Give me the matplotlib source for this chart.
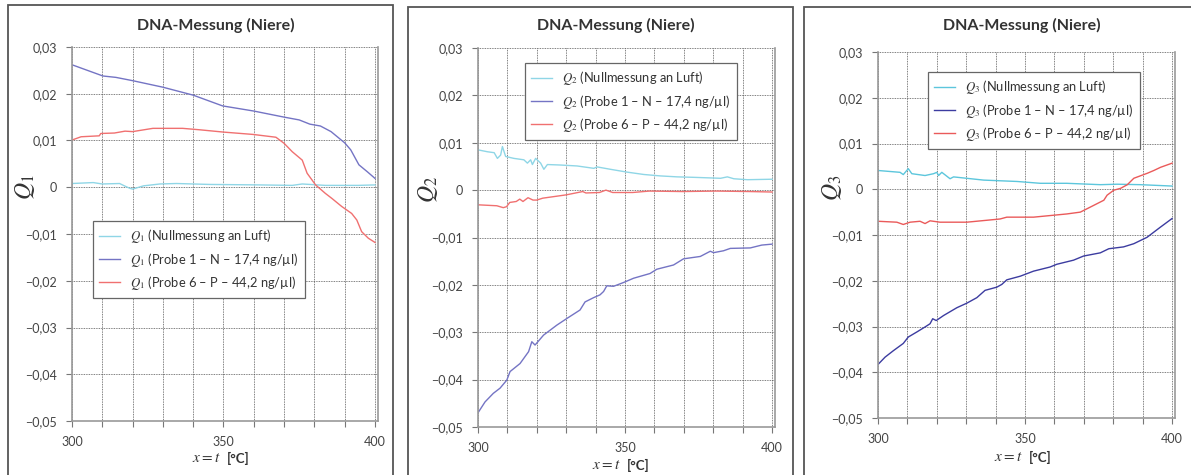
import numpy as np
import matplotlib
matplotlib.use("Agg")
import matplotlib.pyplot as plt
from matplotlib.patches import Rectangle
from matplotlib.ticker import FuncFormatter, MultipleLocator

plt.rcParams['font.family'] = ['Lato', 'DejaVu Sans']
plt.rcParams['mathtext.fontset'] = 'stix'

W, H = 1191, 475

# ---- data (t in °C, Q values) ----
# Panel 1: Q1
q1_luft_t = [300, 307, 310, 315.7, 317.3, 319, 320, 323.6, 329, 334.5, 345.5, 361.8, 372.7, 376, 383.6, 394.5, 400]
q1_luft = [0.0008, 0.0010, 0.0007, 0.0008, 0.0003, -0.0002, -0.0004, 0.0003, 0.0007, 0.0008, 0.0006, 0.0005,
           0.0004, 0.0007, 0.0004, 0.0004, 0.0005]
q1_p1_t = [300, 310.2, 314.5, 320, 330, 340, 349.7, 360, 370, 375, 378.5, 382, 385.5, 390, 392, 394.7, 397.5, 400]
q1_p1 = [0.0262, 0.0238, 0.0235, 0.0228, 0.0214, 0.0197, 0.0174, 0.0163, 0.0150, 0.0144, 0.0135, 0.0131,
         0.0119, 0.0095, 0.0080, 0.0048, 0.0033, 0.0019]
q1_p6_t = [300, 303, 309, 309.5, 314, 317.5, 320, 326.7, 336.5, 342, 350, 359.7, 367.3, 370, 372.7, 376, 377.6,
           380.4, 383.6, 385.8, 389, 392.3, 394, 395.6, 397.8, 400]
q1_p6 = [0.0101, 0.0108, 0.0110, 0.0115, 0.0116, 0.0120, 0.0119, 0.0126, 0.0126, 0.0123, 0.0118, 0.0113,
         0.0107, 0.0094, 0.0076, 0.0058, 0.0030, 0.0005, -0.0013, -0.0024, -0.0041, -0.0056, -0.0070,
         -0.0095, -0.0109, -0.0118]

# Panel 2: Q2
q2_luft_t = [300, 303.2, 305.5, 306.6, 307.7, 308.3, 309.4, 312.2, 315.6, 316.8, 317.9, 318.5, 319.6, 321.3,
             322.4, 323.6, 328, 333.7, 339.4, 340.5, 345, 350.7, 356.4, 362, 367.7, 373.4, 382.5, 384.8, 387,
             391.6, 400]
q2_luft = [0.0085, 0.0081, 0.0079, 0.0067, 0.0074, 0.0092, 0.0071, 0.0067, 0.0064, 0.0057, 0.0064, 0.0054,
           0.0067, 0.0057, 0.0044, 0.0054, 0.0053, 0.0051, 0.0046, 0.0049, 0.0044, 0.0038, 0.0033, 0.0030,
           0.0028, 0.0027, 0.0025, 0.0028, 0.0024, 0.0022, 0.0023]
q2_p1_t = [300, 302.4, 305.2, 307.5, 309.8, 310.9, 314.3, 317.2, 318.3, 319.4, 322.3, 326.8, 330.2, 334.7,
           336.4, 339.3, 341.5, 342.7, 343.8, 346.1, 349.5, 352.9, 358.5, 360.8, 366.5, 369.9, 375.6, 379,
           380.1, 383.5, 385.8, 392.6, 396.5, 400]
q2_p1 = [-0.0470, -0.0447, -0.0429, -0.0418, -0.0401, -0.0383, -0.0366, -0.0341, -0.0320, -0.0327, -0.0306,
         -0.0285, -0.0271, -0.0253, -0.0236, -0.0227, -0.0221, -0.0214, -0.0202, -0.0203, -0.0195, -0.0186,
         -0.0176, -0.0167, -0.0158, -0.0145, -0.0140, -0.0129, -0.0132, -0.0128, -0.0123, -0.0122, -0.0116,
         -0.0114]
q2_p6_t = [300, 306.4, 308.6, 309.7, 310.8, 313, 314.2, 315.3, 317, 318.7, 320, 322, 330, 335.6, 336.7, 341.3,
           343.5, 345.8, 352.6, 358.3, 369.6, 381, 392.4, 400]
q2_p6 = [-0.0031, -0.0033, -0.0037, -0.0035, -0.0026, -0.0024, -0.0019, -0.0024, -0.0016, -0.0021, -0.0021,
         -0.0017, -0.0010, -0.0003, -0.0006, -0.0005, 0.0000, -0.0005, -0.0005, -0.0002, -0.0003, -0.0002,
         -0.0003, -0.0004]

# Panel 3: Q3
q3_luft_t = [300, 307.5, 308.6, 310.3, 311.5, 316, 318.9, 320, 320.6, 321.7, 324.5, 325.7, 335.9, 347.3, 355.2,
             364.2, 375.6, 381.3, 389.2, 400]
q3_luft = [0.0041, 0.0037, 0.0032, 0.0045, 0.0034, 0.0030, 0.0034, 0.0037, 0.0030, 0.0037, 0.0023, 0.0027,
           0.0020, 0.0017, 0.0013, 0.0013, 0.0010, 0.0011, 0.0010, 0.0007]
q3_p1_t = [300, 302.4, 305.2, 308.6, 310.3, 313.2, 316, 317.7, 318.6, 319.8, 322.3, 326.8, 330.2, 333.6, 336.4,
           340.4, 342.1, 343.8, 348.4, 352.9, 358.5, 360.8, 366.5, 369.9, 375.6, 378.5, 383.5, 387, 391.5,
           396, 400]
q3_p1 = [-0.0383, -0.0367, -0.0353, -0.0337, -0.0323, -0.0312, -0.0301, -0.0294, -0.0283, -0.0287, -0.0276,
         -0.0259, -0.0249, -0.0237, -0.0221, -0.0214, -0.0208, -0.0198, -0.0190, -0.0179, -0.0170, -0.0164,
         -0.0155, -0.0146, -0.0139, -0.0130, -0.0126, -0.0119, -0.0105, -0.0083, -0.0064]
q3_p6_t = [300, 306.4, 308.6, 310.9, 314.3, 316, 317.7, 321.1, 330.2, 341.5, 343.8, 352.9, 364.2, 368.8, 372.2,
           376.8, 377.9, 380.2, 382.5, 384.8, 387, 391.6, 393.8, 396.1, 400]
q3_p6 = [-0.0070, -0.0072, -0.0077, -0.0072, -0.0070, -0.0075, -0.0069, -0.0072, -0.0072, -0.0065, -0.0061,
         -0.0061, -0.0054, -0.0050, -0.0039, -0.0024, -0.0013, -0.0002, 0.0002, 0.0010, 0.0024, 0.0035,
         0.0041, 0.0048, 0.0057]

legend_names = ["(Nullmessung an Luft)", "(Probe 1 – N – 17,4 ng/µl)", "(Probe 6 – P – 44,2 ng/µl)"]


def px(x, y):
    return x / W, 1 - y / H


def yfmt(v, pos):
    if abs(v) < 1e-9:
        return "0"
    s = f"{abs(v):.2f}".replace(".", ",")
    return ("\u2212" if v < 0 else "") + s


def xfmt(v, pos):
    return f"{v:.0f}" if round(v) % 50 == 0 else ""


fig = plt.figure(figsize=(W / 100, H / 100), dpi=100)

# panels: border box, axes box (pixels), title x, ylabel pos, legend box, xlabel pos, colours
panels = [
    dict(border=(8, 5, 393), ax=(72, 47, 378, 421), title_x=216, ylab=(25, 187), leg=(93, 221),
         xlab=(206, 458), n=1,
         series=[(q1_luft_t, q1_luft), (q1_p1_t, q1_p1), (q1_p6_t, q1_p6)],
         colors=["#8fd6e6", "#7474c4", "#f07070"]),
    dict(border=(408, 7, 793), ax=(478, 48, 775, 427), title_x=616, ylab=(428, 190), leg=(525, 63),
         xlab=(606, 465), n=2,
         series=[(q2_luft_t, q2_luft), (q2_p1_t, q2_p1), (q2_p6_t, q2_p6)],
         colors=["#8fd6e6", "#7474c4", "#f07070"]),
    dict(border=(804, 7, 1200), ax=(878, 52, 1175, 418), title_x=1022, ylab=(832, 188), leg=(928, 72),
         xlab=(1008, 457), n=3,
         series=[(q3_luft_t, q3_luft), (q3_p1_t, q3_p1), (q3_p6_t, q3_p6)],
         colors=["#5cc6dc", "#3c3ca0", "#ea5a5a"]),
]

for p in panels:
    bx0, by0, bx1 = p["border"]
    fig.patches.append(Rectangle(px(bx0, 480), (bx1 - bx0) / W, (480 - by0) / H,
                                 transform=fig.transFigure, fill=False, edgecolor="#555555", lw=1.3))

    x0, y0, x1, y1 = p["ax"]
    ax = fig.add_axes([x0 / W, 1 - y1 / H, (x1 - x0) / W, (y1 - y0) / H])
    n = p["n"]
    for (t, q), c, name in zip(p["series"], p["colors"], legend_names):
        ax.plot(t, q, color=c, lw=1.0, label=f"$Q_{n}$ {name}")

    ax.set_xlim(300, 401)
    ax.set_ylim(-0.05, 0.03)
    ax.xaxis.set_major_locator(MultipleLocator(10))
    ax.yaxis.set_major_locator(MultipleLocator(0.01))
    ax.xaxis.set_major_formatter(FuncFormatter(xfmt))
    ax.yaxis.set_major_formatter(FuncFormatter(yfmt))
    ax.grid(True, color="#555555", lw=0.6, linestyle=(0, (1, 1)))
    ax.set_axisbelow(True)
    for s in ["left", "bottom", "right"]:
        ax.spines[s].set_color("#999999")
        ax.spines[s].set_linewidth(1.2)
    ax.spines["top"].set_visible(False)
    ax.tick_params(direction="out", length=4, width=0.8, color="#777777", labelsize=9,
                   labelcolor="#444444", pad=7)

    fig.text(*px(p["title_x"], 25), "DNA-Messung (Niere)", ha="center", va="center",
             fontsize=11.5, fontweight="bold", color="#333333")
    fig.text(*px(*p["ylab"]), f"$Q_{n}$", rotation=90, ha="center", va="center",
             fontsize=17, color="#333333")
    xl, yl = p["xlab"]
    fig.text(*px(xl, yl), "$x = t$", ha="center", va="center", fontsize=11, color="#333333")
    fig.text(*px(xl + 32, yl), "[°C]", ha="center", va="center", fontsize=9.5,
             fontweight="bold", color="#333333")

    lx, ly = p["leg"]
    leg = ax.legend(loc="upper left", bbox_to_anchor=px(lx, ly), bbox_transform=fig.transFigure,
                    fancybox=False, framealpha=1, edgecolor="#666666", fontsize=9.3,
                    handlelength=1.6, borderaxespad=0, labelspacing=0.4, borderpad=0.5)
    leg.get_frame().set_linewidth(0.9)
    for txt in leg.get_texts():
        txt.set_color("#333333")

fig.savefig("out.png", dpi=100)
